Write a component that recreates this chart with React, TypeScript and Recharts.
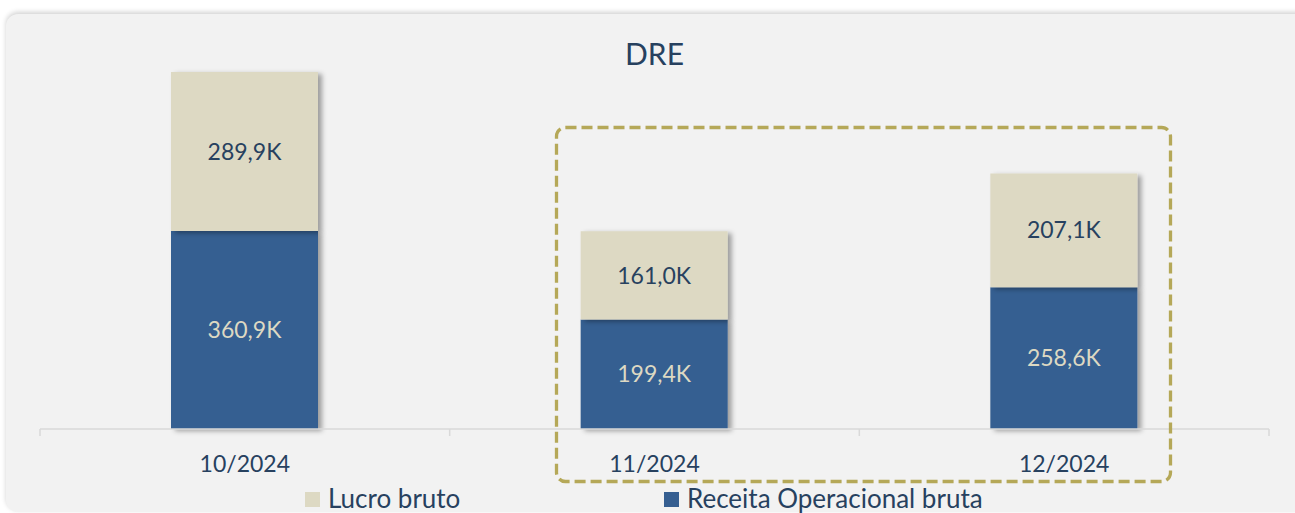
import React from 'react';
import { BarChart, Bar, XAxis, YAxis, LabelList, Legend, Rectangle } from 'recharts';

const months = ['10/2024', '11/2024', '12/2024'];
const receitaOperacional = [360.9, 199.4, 258.6];
const lucroBruto = [289.9, 161.0, 207.1];
const seriesNames = ['Lucro bruto', 'Receita Operacional bruta'];

const data = months.map((m, i) => ({
	month: m,
	receita: receitaOperacional[i],
	lucro: lucroBruto[i],
}));

const W = 1295;
const H = 513;
const M = { top: 45, right: 26, bottom: 44, left: 40 };
const BAND = (W - M.left - M.right) / months.length;

const BLUE = '#365f91';
const BEIGE = '#ddd9c3';
const TEXT = '#27415f';
const FONT = 'Lato, sans-serif';

const fmt = (v: any) => `${Number(v).toFixed(1).replace('.', ',')}K`;

const ShadowBar = (props: any) => <Rectangle {...props} filter="url(#barShadow)" />;

const AxisTick = (props: any) => {
	const { x, y, payload, index } = props;
	const top = y - 8;
	return (
		<g>
			<line x1={x - BAND / 2} x2={x - BAND / 2} y1={top} y2={top + 7} stroke="#d9d9d9" strokeWidth={1.5} />
			{index === months.length - 1 && (
				<line x1={x + BAND / 2} x2={x + BAND / 2} y1={top} y2={top + 7} stroke="#d9d9d9" strokeWidth={1.5} />
			)}
			<text x={x} y={top + 43} textAnchor="middle" fill={TEXT} fontSize={23} fontFamily={FONT}>
				{payload.value}
			</text>
		</g>
	);
};

const LegendBox = () => {
	const colors = [BEIGE, BLUE];
	return (
		<div style={{ display: 'flex', paddingLeft: 305, fontFamily: FONT }}>
			{seriesNames.map((name, i) => (
				<div key={name} style={{ width: 359, display: 'flex', alignItems: 'center' }}>
					<span style={{ width: 15, height: 15, background: colors[i], marginRight: 8, marginTop: 3 }} />
					<span style={{ fontSize: 26, color: TEXT, lineHeight: '24px' }}>{name}</span>
				</div>
			))}
		</div>
	);
};

export default function App() {
	return (
		<div style={{ position: 'absolute', left: 0, top: 0, width: W, height: H, background: '#fff', overflow: 'hidden' }}>
			<svg width={0} height={0} style={{ position: 'absolute' }}>
				<defs>
					<filter id="barShadow" x="-10%" y="-10%" width="130%" height="130%">
						<feDropShadow dx={4} dy={2} stdDeviation={2.5} floodColor="#000" floodOpacity={0.35} />
					</filter>
				</defs>
			</svg>
			<div
				style={{
					position: 'absolute',
					left: 6,
					top: 14,
					width: 1310,
					height: 498,
					background: '#f2f2f2',
					borderRadius: 12,
					boxShadow: '0 -2px 5px rgba(0,0,0,0.18)',
				}}
			/>
			<div
				style={{
					position: 'absolute',
					left: M.left,
					width: W - M.left - M.right,
					top: 34,
					textAlign: 'center',
					fontFamily: FONT,
					fontSize: 30,
					lineHeight: '38px',
					color: TEXT,
				}}
			>
				DRE
			</div>
			<div style={{ position: 'absolute', left: 0, top: 0 }}>
				<BarChart width={W} height={H} data={data} margin={M}>
					<XAxis
						dataKey="month"
						height={40}
						axisLine={{ stroke: '#d9d9d9', strokeWidth: 1.5 }}
						tickLine={false}
						tick={<AxisTick />}
						interval={0}
					/>
					<YAxis hide domain={[0, 700]} />
					<Legend
						verticalAlign="middle"
						align="center"
						layout="horizontal"
						wrapperStyle={{ top: 486, left: 0, width: W }}
						content={<LegendBox />}
					/>
					<Bar
						dataKey="receita"
						name={seriesNames[1]}
						stackId="a"
						fill={BLUE}
						barSize={147}
						shape={ShadowBar}
						isAnimationActive={false}
					>
						<LabelList dataKey="receita" position="center" formatter={fmt} fill={BEIGE} fontSize={23} fontFamily={FONT} />
					</Bar>
					<Bar
						dataKey="lucro"
						name={seriesNames[0]}
						stackId="a"
						fill={BEIGE}
						barSize={147}
						shape={ShadowBar}
						isAnimationActive={false}
					>
						<LabelList dataKey="lucro" position="center" formatter={fmt} fill={TEXT} fontSize={23} fontFamily={FONT} />
					</Bar>
				</BarChart>
			</div>
			<svg width={W} height={H} style={{ position: 'absolute', left: 0, top: 0, pointerEvents: 'none' }}>
				<rect
					x={556.5}
					y={127.5}
					width={614}
					height={354}
					rx={9}
					fill="none"
					stroke="#b5a858"
					strokeWidth={3.3}
					strokeDasharray="11 5"
				/>
			</svg>
		</div>
	);
}
